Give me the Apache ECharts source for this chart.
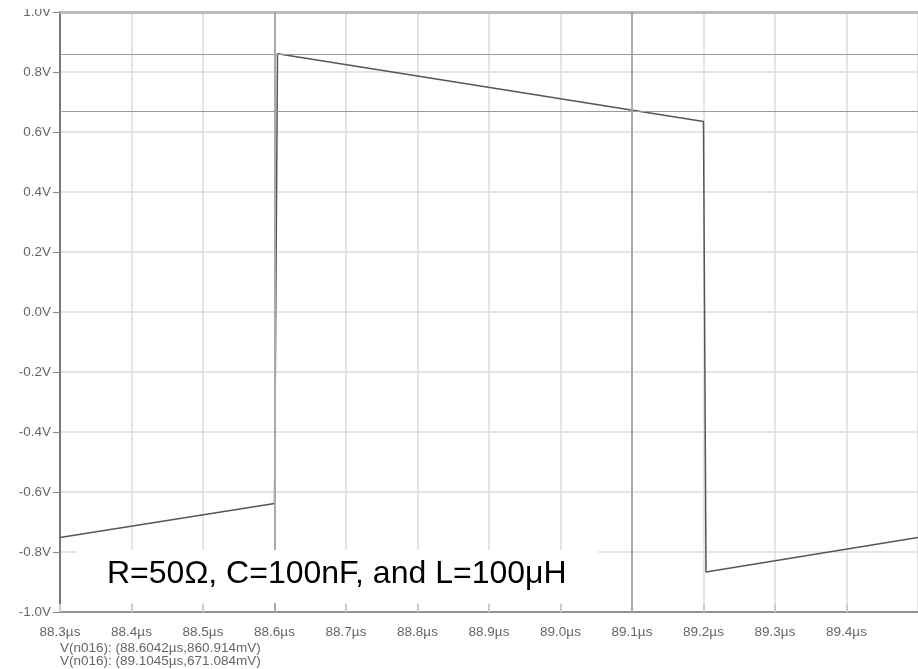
<!DOCTYPE html>
<html>
<head>
<meta charset="utf-8">
<title>V(n016)</title>
<script src="https://cdn.jsdelivr.net/npm/echarts@6/dist/echarts.min.js"></script>
<style>
  html, body { margin: 0; padding: 0; background: #fff; }
  #main { width: 918px; height: 669px; }
</style>
</head>
<body>
<div id="main"></div>
<script>
// 波形数据 (µs, V)
var times = [88.3, 88.6, 88.6042, 89.2, 89.2035, 89.5];
var volts = [-0.752, -0.638, 0.861, 0.635, -0.867, -0.752];

// 光标
var cursorTimes = [88.6042, 89.1045];
var cursorVolts = [0.860914, 0.671084];
var cursorLabels = [
  'V(n016): (88.6042\u00b5s,860.914mV)',
  'V(n016): (89.1045\u00b5s,671.084mV)'
];

var note = 'R=50\u03a9, C=100nF, and L=100\u03bcH';

var font = '"Liberation Sans", Arial, sans-serif';

var points = [];
for (var i = 0; i < times.length; i++) {
  points.push([times[i], volts[i]]);
}

var marks = [{ yAxis: 1.0, lineStyle: { color: '#bbb', width: 3, type: 'solid' } }];
cursorTimes.forEach(function (t) {
  marks.push({ xAxis: t, lineStyle: { color: '#aaa', width: 2, type: 'solid' } });
});
cursorVolts.forEach(function (v) {
  marks.push({ yAxis: v, lineStyle: { color: '#999', width: 1.2, type: 'solid' } });
});

var chart = echarts.init(document.getElementById('main'), null, { renderer: 'canvas' });

var option = {
  animation: false,
  backgroundColor: '#fff',
  grid: { left: 60, top: 12, width: 860, height: 600, containLabel: false },
  xAxis: {
    type: 'value',
    min: 88.3,
    max: 89.5,
    interval: 0.1,
    axisLine: { show: true, onZero: false, lineStyle: { color: '#777', width: 1.5 } },
    axisTick: { show: true, inside: true, length: 8, lineStyle: { color: '#ccc', width: 2 } },
    axisLabel: {
      color: '#666', fontSize: 13.5, fontFamily: font, margin: 13,
      showMaxLabel: false,
      formatter: function (v) { return v.toFixed(1) + '\u00b5s'; }
    },
    splitLine: { show: true, lineStyle: { color: '#ddd', width: 1.5 } }
  },
  yAxis: {
    type: 'value',
    min: -1,
    max: 1,
    interval: 0.2,
    axisLine: { show: true, onZero: false, lineStyle: { color: '#777', width: 2 } },
    axisTick: { show: true, length: 7, lineStyle: { color: '#888', width: 1 } },
    axisLabel: {
      color: '#666', fontSize: 13.5, fontFamily: font, margin: 9,
      formatter: function (v) { return v.toFixed(1) + 'V'; }
    },
    splitLine: { show: true, lineStyle: { color: '#ddd', width: 1.5 } }
  },
  series: [{
    type: 'line',
    data: points,
    symbol: 'none',
    lineStyle: { color: '#555', width: 1.5 },
    markLine: {
      silent: true,
      symbol: 'none',
      label: { show: false },
      data: marks
    }
  }],
  graphic: [
    // 顶部裁切
    { type: 'rect', shape: { x: 0, y: 0, width: 58, height: 9 }, style: { fill: '#fff' }, zlevel: 1, z: 100 },
    // 注释框
    { type: 'rect', shape: { x: 77, y: 550, width: 521, height: 53 }, style: { fill: '#fff' }, zlevel: 1, z: 100 },
    {
      type: 'text', x: 107, y: 574, zlevel: 1, z: 101,
      style: { text: note, font: '32px ' + font, fill: '#000', textVerticalAlign: 'middle' }
    },
    {
      type: 'text', x: 60, y: 648, zlevel: 1, z: 101,
      style: { text: cursorLabels[0], font: '13.5px ' + font, fill: '#666', textVerticalAlign: 'middle' }
    },
    {
      type: 'text', x: 60, y: 661, zlevel: 1, z: 101,
      style: { text: cursorLabels[1], font: '13.5px ' + font, fill: '#666', textVerticalAlign: 'middle' }
    }
  ]
};

chart.setOption(option);
</script>
</body>
</html>
